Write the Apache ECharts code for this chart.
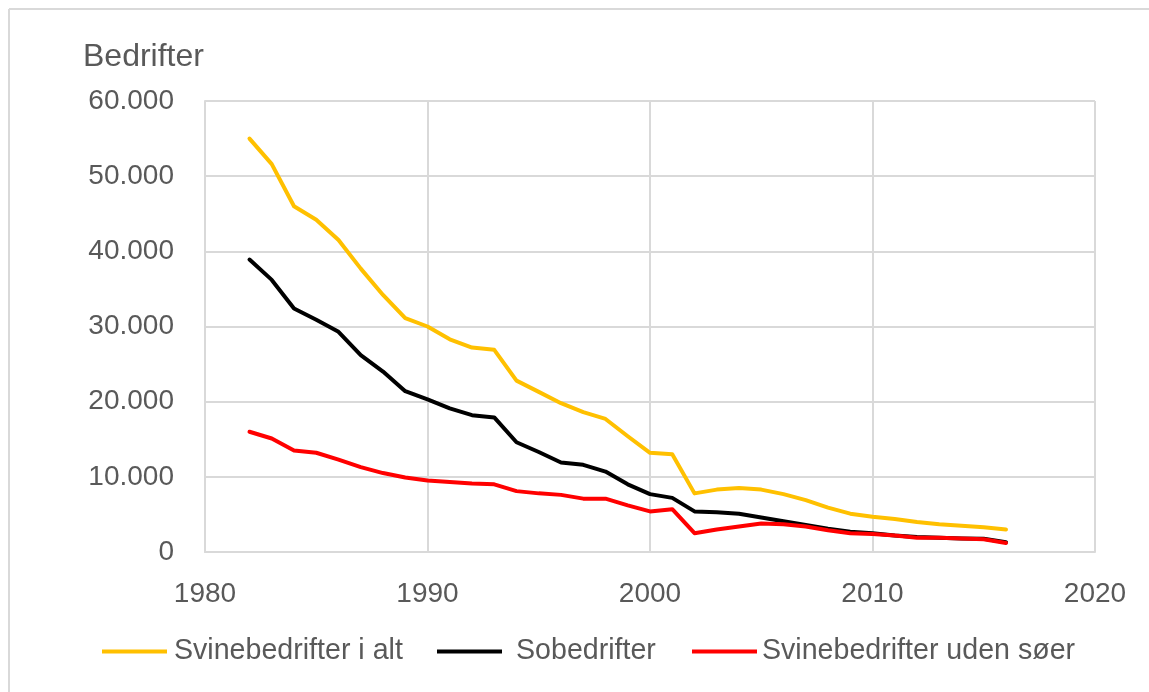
<!DOCTYPE html>
<html>
<head>
<meta charset="utf-8">
<script src="https://cdn.jsdelivr.net/npm/echarts@6/dist/echarts.min.js"></script>
<style>
html,body{margin:0;padding:0;background:#fff;overflow:hidden;}
#chart{width:1149px;height:692px;}
</style>
</head>
<body>
<div id="chart"></div>
<script>
const years = [1982,1983,1984,1985,1986,1987,1988,1989,1990,1991,1992,1993,1994,1995,1996,1997,1998,1999,2000,2001,2002,2003,2004,2005,2006,2007,2008,2009,2010,2011,2012,2013,2014,2015,2016];
const svinIAlt = [55000,51600,46000,44200,41500,37700,34200,31100,30000,28300,27200,26900,22800,21300,19800,18600,17700,15400,13200,13000,7800,8300,8500,8300,7700,6900,5900,5100,4700,4400,4000,3700,3500,3300,3000];
const sobedrifter = [38900,36200,32400,30900,29300,26200,24000,21400,20300,19100,18200,17900,14600,13300,11900,11600,10700,9000,7700,7200,5400,5300,5100,4600,4100,3600,3100,2700,2500,2200,2000,1900,1800,1750,1300];
const udenSoeer = [16000,15100,13500,13200,12300,11300,10500,9900,9500,9300,9100,9000,8100,7800,7600,7100,7100,6200,5400,5700,2500,3000,3400,3800,3700,3400,2900,2500,2400,2200,1900,1900,1800,1700,1200];
const seriesNames = ['Svinebedrifter i alt','Sobedrifter','Svinebedrifter uden søer'];
const seriesColors = ['#FFC000','#000000','#FF0000'];
const yAxisTitle = 'Bedrifter';

const seriesData = [svinIAlt, sobedrifter, udenSoeer];
const chart = echarts.init(document.getElementById('chart'), null, {renderer:'canvas'});
const font = 'Liberation Sans, Arial, sans-serif';
const txt = '#595959';
const grid = '#d9d9d9';

const legendLefts = [102, 437, 692];
const legendPads = [2, 9, 0];

chart.setOption({
  animation:false,
  backgroundColor:'#fff',
  textStyle:{fontFamily:font},
  graphic:[
    {type:'line', shape:{x1:9, y1:9, x2:1149, y2:9}, style:{stroke:'#d9d9d9', lineWidth:2}, silent:true},
    {type:'line', shape:{x1:9, y1:9, x2:9, y2:692}, style:{stroke:'#d9d9d9', lineWidth:2}, silent:true},
    {type:'text', left:83, top:41, style:{text:yAxisTitle, font:'32px '+font, fill:txt}}
  ],
  grid:{left:205, right:54, top:101, bottom:140},
  legend: seriesNames.map((n,i)=>({
    left:legendLefts[i], top:637, padding:0, itemWidth:65, itemHeight:4, icon:'rect',
    textStyle:{fontSize:28.6, color:txt, fontFamily:font, padding:[0,0,0,legendPads[i]]},
    data:[n]
  })),
  xAxis:{
    type:'value', min:1980, max:2020, interval:10,
    axisLine:{show:true, lineStyle:{color:grid, width:2}},
    axisTick:{show:false},
    splitLine:{show:true, lineStyle:{color:grid, width:2}},
    axisLabel:{fontSize:28, color:txt, margin:28, fontFamily:font, formatter:v=>String(v)}
  },
  yAxis:{
    type:'value', min:0, max:60000, interval:10000,
    axisLine:{show:true, lineStyle:{color:grid, width:2}},
    axisTick:{show:false},
    splitLine:{show:true, lineStyle:{color:grid, width:2}},
    axisLabel:{fontSize:28, color:txt, margin:31, fontFamily:font,
      formatter:v=>String(v).replace(/\B(?=(\d{3})+(?!\d))/g,'.')}
  },
  series: seriesNames.map((n,i)=>({
    name:n, type:'line', showSymbol:false, symbol:'none',
    data: years.map((y,j)=>[y, seriesData[i][j]]),
    itemStyle:{color:seriesColors[i]},
    lineStyle:{color:seriesColors[i], width:4, cap:'round', join:'round'}
  }))
});
</script>
</body>
</html>
